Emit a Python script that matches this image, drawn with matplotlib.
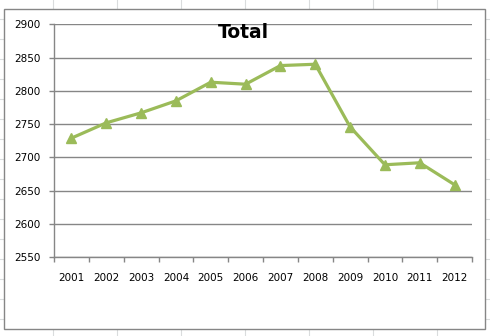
import matplotlib.pyplot as plt
from matplotlib.patches import Rectangle
from matplotlib.lines import Line2D

years = ['2001', '2002', '2003', '2004', '2005', '2006',
         '2007', '2008', '2009', '2010', '2011', '2012']
totals = [2729, 2752, 2767, 2785, 2813, 2810,
          2838, 2840, 2746, 2689, 2692, 2659]
y_ticks = [2550, 2600, 2650, 2700, 2750, 2800, 2850, 2900]

W, H = 490, 336


def main():
    fig = plt.figure(figsize=(W / 100, H / 100), dpi=100)

    # worksheet cell grid behind the chart
    for x in range(53, W, 64):
        fig.add_artist(Line2D([x / W, x / W], [0, 1], color='#dadcdd', lw=0.8, zorder=-3))
    for y in range(19, H, 20):
        fig.add_artist(Line2D([0, 1], [1 - y / H, 1 - y / H], color='#dadcdd', lw=0.8, zorder=-3))

    # chart area
    fig.add_artist(Rectangle((4 / W, 1 - 329 / H), 481 / W, 320 / H,
                             facecolor='white', edgecolor='#868686', lw=1.0, zorder=-2))

    ax = fig.add_axes([54 / W, 1 - 257.3 / H, 418 / W, 233 / H])
    ax.set_facecolor('none')
    x = list(range(len(years)))
    ax.plot(x, totals, color='#9bbb59', lw=2.3, marker='^', markersize=7,
            markeredgecolor='#9bbb59', zorder=3)

    ax.set_ylim(2550, 2900)
    ax.set_yticks(y_ticks)
    ax.set_xlim(-0.5, len(years) - 0.5)
    ax.set_xticks(x)
    ax.set_xticklabels(years)
    ax.set_xticks([i - 0.5 for i in range(len(years) + 1)], minor=True)
    ax.grid(axis='y', color='#868686', lw=1.0)
    ax.set_axisbelow(True)

    for s in ['top', 'right']:
        ax.spines[s].set_visible(False)
    for s in ['left', 'bottom']:
        ax.spines[s].set_color('#868686')
        ax.spines[s].set_linewidth(1.0)

    ax.tick_params(axis='x', which='major', length=0, pad=11, labelsize=7.5)
    ax.tick_params(axis='x', which='minor', length=3.5, color='#868686', width=1.0)
    ax.tick_params(axis='y', length=3.5, color='#868686', width=1.0, pad=6, labelsize=7.5)

    fig.text(243 / W, 1 - 33 / H, 'Total', ha='center', va='center',
             fontsize=13.5, fontweight='bold')

    fig.savefig('out.png', dpi=100)


if __name__ == '__main__':
    main()
